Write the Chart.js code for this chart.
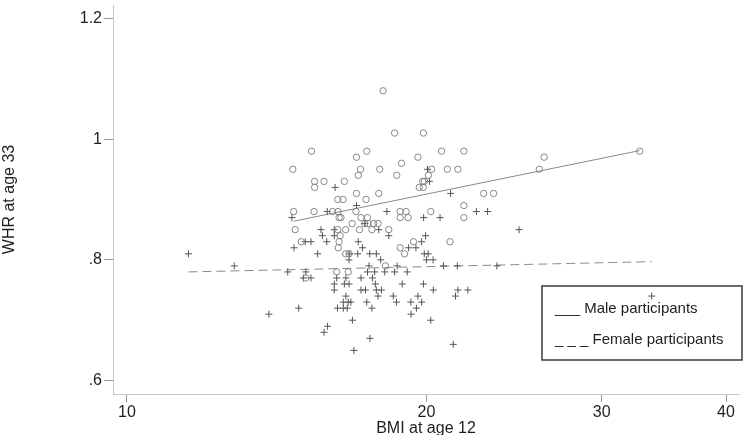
<!DOCTYPE html>
<html>
<head>
<meta charset="utf-8">
<title>WHR at age 33 vs BMI at age 12</title>
<script src="https://cdn.jsdelivr.net/npm/chart.js@4/dist/chart.umd.min.js"></script>
<style>
    html, body { margin: 0; padding: 0; background: #fff; }
    #wrap { width: 744px; height: 435px; }
</style>
</head>
<body>
<div id="wrap"><canvas id="whr-chart" width="744" height="435"></canvas></div>
<script>
// 男性（圆圈）：BMI at age 12 / WHR at age 33
const maleBMI = [
    18.09, 18.58, 19.86, 15.33, 17.42, 17.01, 19.61, 20.71, 18.88, 14.68,
    17.17, 17.95, 20.24, 20.99, 17.08, 18.67, 20.09, 15.44, 15.78, 16.54,
    19.83, 15.44, 19.67, 19.85, 17.01, 17.91, 16.29, 16.49, 17.39, 14.71,
    15.42, 16.09, 16.30, 16.99, 18.82, 19.08, 20.20, 16.34, 16.41, 18.82,
    19.17, 17.19, 17.45, 16.84, 17.47, 17.70, 17.88, 17.34, 14.76, 16.29,
    16.59, 17.13, 17.63, 18.33, 16.38, 14.97, 16.34, 19.41, 16.31, 18.82,
    16.59, 16.72, 19.01, 18.19, 16.25, 16.69, 15.13, 21.81, 21.51, 22.83,
    23.36, 21.81, 21.81, 21.12, 26.26, 25.97, 32.76, 19.91
];
const maleWHR = [
    1.08, 1.01, 1.01, 0.98, 0.98, 0.97, 0.97, 0.98, 0.96, 0.95,
    0.95, 0.95, 0.95, 0.95, 0.94, 0.94, 0.94, 0.93, 0.93, 0.93,
    0.93, 0.92, 0.92, 0.92, 0.91, 0.91, 0.90, 0.90, 0.90, 0.88,
    0.88, 0.88, 0.88, 0.88, 0.88, 0.88, 0.88, 0.87, 0.87, 0.87,
    0.87, 0.87, 0.87, 0.86, 0.86, 0.86, 0.86, 0.86, 0.85, 0.85,
    0.85, 0.85, 0.85, 0.85, 0.84, 0.83, 0.83, 0.83, 0.82, 0.82,
    0.81, 0.81, 0.81, 0.79, 0.78, 0.78, 0.77, 0.98, 0.95, 0.91,
    0.91, 0.89, 0.87, 0.83, 0.97, 0.95, 0.98, 0.93
];

// 女性（加号）
const femaleBMI = [
    11.53, 12.82, 13.89, 14.51, 14.65, 14.72, 14.88, 15.05, 15.31, 15.13,
    15.11, 15.31, 15.55, 15.67, 15.72, 15.90, 15.88, 16.19, 16.16, 16.16,
    17.01, 18.25, 17.34, 17.91, 18.33, 17.08, 17.25, 16.75, 17.06, 17.54,
    17.81, 16.72, 17.99, 17.51, 18.69, 17.45, 17.74, 18.16, 18.58, 19.13,
    16.25, 16.60, 17.19, 17.65, 16.16, 16.54, 16.72, 17.77, 18.91, 19.86,
    16.16, 17.19, 17.37, 17.81, 18.02, 20.32, 16.60, 17.88, 18.52, 19.61,
    16.50, 16.69, 16.79, 17.42, 18.66, 19.29, 19.78, 16.28, 16.50, 16.65,
    17.63, 19.54, 19.30, 16.85, 20.20, 15.91, 15.78, 17.55, 16.91, 21.28,
    21.39, 21.51, 22.01, 20.80, 21.48, 23.54, 24.78, 22.45, 23.04, 21.15,
    20.64, 19.87, 19.96, 19.78, 19.19, 19.52, 19.90, 20.08, 20.00, 20.31,
    20.05, 20.14, 33.68
];
const femaleWHR = [
    0.81, 0.79, 0.71, 0.78, 0.87, 0.82, 0.72, 0.77, 0.77, 0.78,
    0.83, 0.83, 0.81, 0.85, 0.84, 0.88, 0.83, 0.92, 0.85, 0.84,
    0.89, 0.88, 0.86, 0.85, 0.84, 0.83, 0.82, 0.81, 0.81, 0.81,
    0.81, 0.80, 0.80, 0.79, 0.79, 0.78, 0.78, 0.78, 0.78, 0.78,
    0.77, 0.77, 0.77, 0.77, 0.76, 0.76, 0.76, 0.76, 0.76, 0.76,
    0.75, 0.75, 0.75, 0.75, 0.75, 0.75, 0.74, 0.74, 0.74, 0.74,
    0.73, 0.73, 0.73, 0.73, 0.73, 0.73, 0.73, 0.72, 0.72, 0.72,
    0.72, 0.72, 0.71, 0.70, 0.70, 0.69, 0.68, 0.67, 0.65, 0.66,
    0.74, 0.75, 0.75, 0.79, 0.79, 0.79, 0.85, 0.88, 0.88, 0.91,
    0.87, 0.87, 0.84, 0.83, 0.82, 0.82, 0.81, 0.81, 0.80, 0.80,
    0.95, 0.93, 0.74
];

// 拟合线两端
const maleFitBMI = [14.71, 32.76];
const maleFitWHR = [0.864, 0.981];
const femaleFitBMI = [11.53, 33.68];
const femaleFitWHR = [0.780, 0.797];

// 坐标刻度
const xTicks = [10, 20, 30, 40];
const yTicks = [0.6, 0.8, 1, 1.2];

const legendLabels = ['___ Male participants', '_ _ _ Female participants'];

const FONT = "'Liberation Sans', Arial, sans-serif";
const TEXT = '#1e1e1e';

function toPoints(xs, ys) {
    return xs.map((x, i) => ({ x: x, y: ys[i] }));
}

// 图例方框（文字 + 边框）
const legendBox = {
    id: 'legendBox',
    afterDraw(chart) {
        const ctx = chart.ctx;
        ctx.save();
        ctx.strokeStyle = '#3a3a3a';
        ctx.lineWidth = 1.5;
        ctx.strokeRect(542, 286, 200, 74);
        ctx.fillStyle = TEXT;
        ctx.font = '15px ' + FONT;
        ctx.textBaseline = 'alphabetic';
        ctx.fillText(legendLabels[0], 555, 313);
        ctx.fillText(legendLabels[1], 555, 344);
        ctx.restore();
    }
};

function initChart() {
    const ctx = document.getElementById('whr-chart').getContext('2d');

    new Chart(ctx, {
        type: 'scatter',
        data: {
            datasets: [
                {
                    label: 'Male participants',
                    data: toPoints(maleBMI, maleWHR),
                    pointStyle: 'circle',
                    pointRadius: 3.2,
                    borderColor: '#7a7a7a',
                    backgroundColor: 'rgba(255,255,255,0)',
                    borderWidth: 0.9
                },
                {
                    label: 'Female participants',
                    data: toPoints(femaleBMI, femaleWHR),
                    pointStyle: 'cross',
                    pointRadius: 3.5,
                    borderColor: '#555',
                    borderWidth: 1
                },
                {
                    label: 'Male fit',
                    data: toPoints(maleFitBMI, maleFitWHR),
                    showLine: true,
                    pointRadius: 0,
                    borderColor: '#8a8a8a',
                    borderWidth: 1,
                    fill: false
                },
                {
                    label: 'Female fit',
                    data: toPoints(femaleFitBMI, femaleFitWHR),
                    showLine: true,
                    pointRadius: 0,
                    borderColor: '#8a8a8a',
                    borderWidth: 1,
                    borderDash: [9, 5],
                    fill: false
                }
            ]
        },
        options: {
            responsive: false,
            animation: false,
            devicePixelRatio: 1,
            layout: { padding: 0 },
            plugins: {
                legend: { display: false },
                tooltip: { enabled: false }
            },
            scales: {
                x: {
                    type: 'logarithmic',
                    bounds: 'data',
                    min: 9.684,
                    max: 41.22,
                    afterBuildTicks: s => { s.ticks = xTicks.map(v => ({ value: v })); },
                    afterFit: s => {
                        s.height = 41;
                        s.paddingLeft = 0;
                        s.paddingRight = 0;
                    },
                    ticks: {
                        callback: v => String(v),
                        autoSkip: false,
                        maxRotation: 0,
                        padding: 1,
                        color: TEXT,
                        font: { family: FONT, size: 16 }
                    },
                    grid: { drawOnChartArea: false, tickLength: 8, color: '#9a9a9a' },
                    border: { color: '#c8c8c8' },
                    title: {
                        display: true,
                        text: 'BMI at age 12',
                        color: TEXT,
                        padding: { top: 0, bottom: -3 },
                        font: { family: FONT, size: 16 }
                    }
                },
                y: {
                    type: 'linear',
                    min: 0.5778,
                    max: 1.2221,
                    afterBuildTicks: s => { s.ticks = yTicks.map(v => ({ value: v })); },
                    afterFit: s => {
                        s.width = 113;
                        s.paddingTop = 0;
                        s.paddingBottom = 0;
                    },
                    ticks: {
                        callback: v => String(v).replace(/^0\./, '.'),
                        autoSkip: false,
                        padding: 2,
                        color: TEXT,
                        font: { family: FONT, size: 16 }
                    },
                    grid: { drawOnChartArea: false, tickLength: 9, color: '#9a9a9a' },
                    border: { color: '#c8c8c8' },
                    title: {
                        display: true,
                        text: 'WHR at age 33',
                        color: TEXT,
                        padding: 0,
                        font: { family: FONT, size: 16 }
                    }
                }
            }
        },
        plugins: [legendBox]
    });
}

document.addEventListener('DOMContentLoaded', () => {
    initChart();
});
</script>
</body>
</html>
